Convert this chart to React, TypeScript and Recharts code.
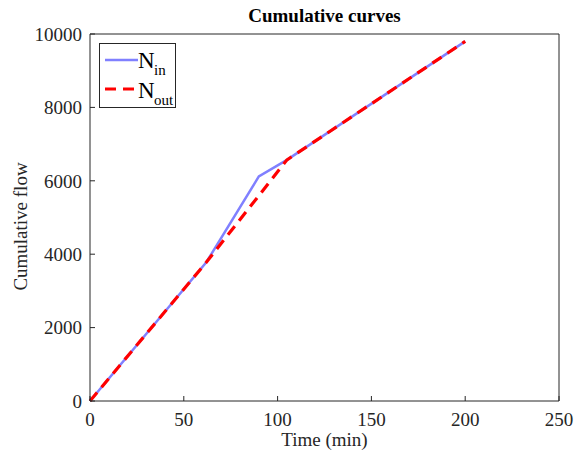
import React from 'react';
import { LineChart, Line, XAxis, YAxis, Label } from 'recharts';

// Cumulative arrivals (N_in) and departures (N_out) over time
const timeIn = [0, 62, 90, 105, 200];
const flowIn = [0, 3780, 6120, 6570, 9800];
const timeOut = [0, 62, 105, 200];
const flowOut = [0, 3780, 6570, 9800];

const xTicks = [0, 50, 100, 150, 200, 250];
const yTicks = [0, 2000, 4000, 6000, 8000, 10000];

const inData = timeIn.map((t, i) => ({ t, n: flowIn[i] }));
const outData = timeOut.map((t, i) => ({ t, n: flowOut[i] }));

const FONT = '"Liberation Serif", "Times New Roman", serif';
const AXIS = '#262626';
const BLUE = '#8080ff';
const RED = '#ff0000';

const W = 579;
const H = 459;
const PAD = { top: 34, right: 20, bottom: 58, left: 90 };

const noTick = () => <g />;
const tickStyle = { fill: '#262626', fontSize: 19, fontFamily: FONT };

// Rotated y-axis title, placed a little below the plot's vertical centre
const YTitle = (props: any) => {
  const vb = props.viewBox || {};
  const cx = 20;
  const cy = (vb.y ?? PAD.top) + (vb.height ?? H - PAD.top - PAD.bottom) / 2 + 9;
  return (
    <text
      x={cx}
      y={cy}
      transform={`rotate(-90, ${cx}, ${cy})`}
      textAnchor="middle"
      dominantBaseline="central"
      fill="#262626"
      fontSize={19}
      fontFamily={FONT}
    >
      Cumulative flow
    </text>
  );
};

export default function App() {
  return (
    <div style={{ position: 'absolute', left: 0, top: 0, width: W, height: H, background: '#fff' }}>
      <LineChart width={W} height={H} margin={{ top: 0, right: 0, bottom: 0, left: 0 }}>
        <XAxis
          xAxisId="b"
          dataKey="t"
          type="number"
          domain={[0, 250]}
          ticks={xTicks}
          allowDuplicatedCategory={false}
          height={PAD.bottom}
          stroke={AXIS}
          tickSize={-5}
          tickMargin={17}
          tick={tickStyle}
        >
          <Label
            value="Time (min)"
            position="insideBottom"
            offset={13}
            style={{ fill: '#262626', fontSize: 19, fontFamily: FONT }}
          />
        </XAxis>
        <XAxis
          xAxisId="t"
          orientation="top"
          type="number"
          domain={[0, 250]}
          ticks={xTicks}
          height={PAD.top}
          stroke={AXIS}
          tickSize={-5}
          tick={noTick}
        />
        <YAxis
          yAxisId="l"
          type="number"
          domain={[0, 10000]}
          ticks={yTicks}
          width={PAD.left}
          stroke={AXIS}
          tickSize={-5}
          tickMargin={13}
          tick={tickStyle}
        >
          <Label content={YTitle} />
        </YAxis>
        <YAxis
          yAxisId="r"
          orientation="right"
          type="number"
          domain={[0, 10000]}
          ticks={yTicks}
          width={PAD.right}
          stroke={AXIS}
          tickSize={-5}
          tick={noTick}
        />
        <Line
          xAxisId="b"
          yAxisId="l"
          data={inData}
          dataKey="n"
          type="linear"
          stroke={BLUE}
          strokeWidth={2.5}
          dot={false}
          isAnimationActive={false}
        />
        <Line
          xAxisId="b"
          yAxisId="l"
          data={outData}
          dataKey="n"
          type="linear"
          stroke={RED}
          strokeWidth={3.2}
          strokeDasharray="11 7"
          dot={false}
          isAnimationActive={false}
        />
      </LineChart>

      <div
        style={{
          position: 'absolute',
          left: (PAD.left + W - PAD.right) / 2,
          top: 4,
          transform: 'translateX(-50%)',
          whiteSpace: 'nowrap',
          fontFamily: FONT,
          fontWeight: 'bold',
          fontSize: 19,
          color: '#000',
          lineHeight: '24px',
        }}
      >
        Cumulative curves
      </div>

      <svg
        width={78}
        height={66}
        style={{ position: 'absolute', left: 99, top: 43 }}
        fontFamily={FONT}
      >
        <rect x={0.5} y={0.5} width={76} height={64} fill="#fff" stroke={AXIS} strokeWidth={1} />
        <line x1={6} y1={17} x2={39} y2={17} stroke={BLUE} strokeWidth={2.5} />
        <text x={39} y={25} fontSize={23} fill="#000">N</text>
        <text x={55} y={32} fontSize={15} fill="#000">in</text>
        <line x1={6} y1={46} x2={39} y2={46} stroke={RED} strokeWidth={3.2} strokeDasharray="11 7" />
        <text x={39} y={55} fontSize={23} fill="#000">N</text>
        <text x={55} y={62} fontSize={15} fill="#000">out</text>
      </svg>
    </div>
  );
}
